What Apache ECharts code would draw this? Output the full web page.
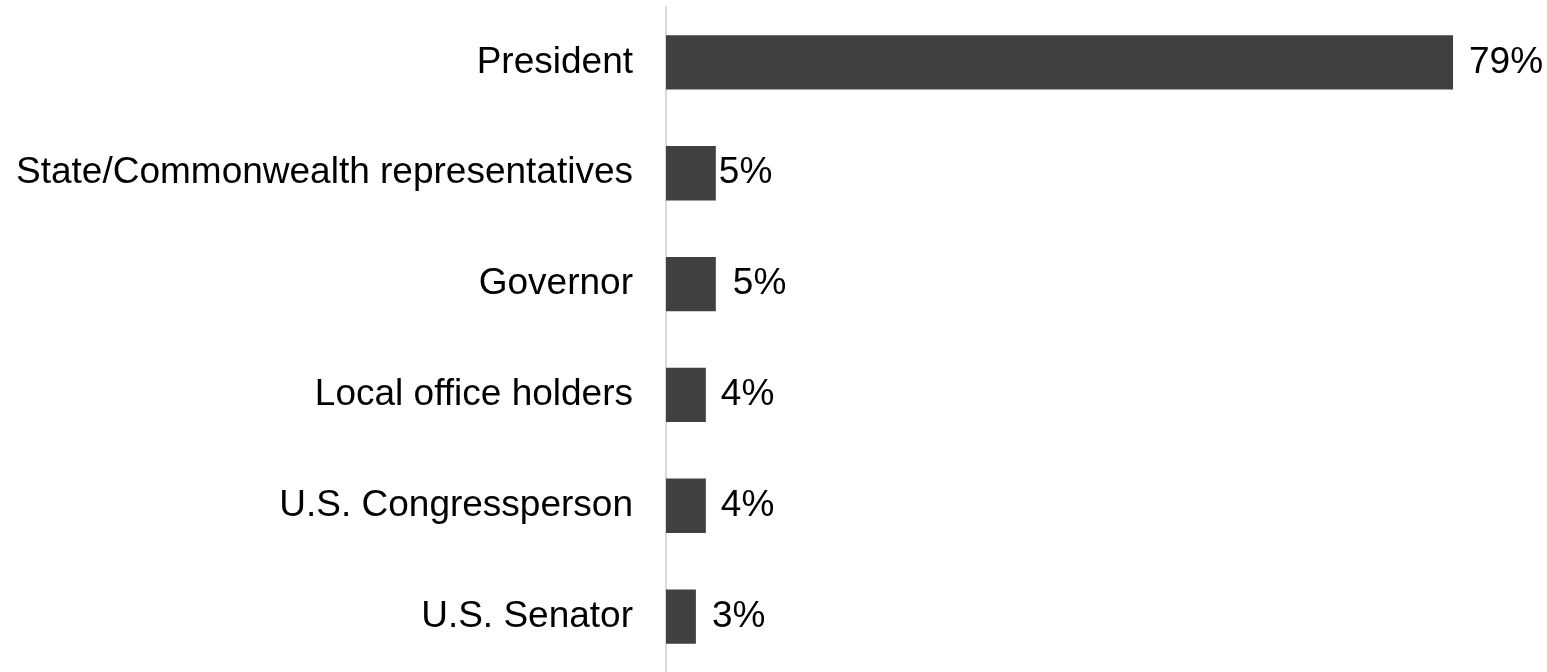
<!DOCTYPE html>
<html>
<head>
<meta charset="utf-8">
<title>Offices</title>
<script src="https://cdn.jsdelivr.net/npm/echarts@6/dist/echarts.min.js"></script>
<style>
    html, body { margin: 0; padding: 0; background: #fff; }
    #main { width: 1547px; height: 672px; }
</style>
</head>
<body>
<div id="main"></div>
<script>
// data
const offices = [
    'President',
    'State/Commonwealth representatives',
    'Governor',
    'Local office holders',
    'U.S. Congressperson',
    'U.S. Senator'
];
const shares = [79, 5, 5, 4, 4, 3];
// label gap after the bar end (the second 5% sits almost on its bar)
const labelGaps = [16, 3, 17, 15, 15, 16];

const chart = echarts.init(document.getElementById('main'));

const option = {
    animation: false,
    grid: {
        left: 666,
        top: 7,
        width: 797,
        height: 669
    },
    xAxis: {
        type: 'value',
        min: 0,
        max: 80,
        show: false
    },
    yAxis: {
        type: 'category',
        data: offices,
        inverse: true,
        axisTick: { show: false },
        axisLine: {
            show: true,
            lineStyle: { color: '#d9d9d9', width: 2 }
        },
        axisLabel: {
            margin: 33,
            color: '#000',
            fontFamily: 'Liberation Sans, Arial, sans-serif',
            fontSize: 37
        }
    },
    series: [
        {
            type: 'bar',
            barWidth: '49%',
            itemStyle: { color: '#3f403f' },
            data: shares.map((v, i) => ({
                value: v,
                label: { distance: labelGaps[i] }
            })),
            label: {
                show: true,
                position: 'right',
                color: '#000',
                fontFamily: 'Liberation Sans, Arial, sans-serif',
                fontSize: 37,
                formatter: p => p.value + '%'
            }
        }
    ]
};

chart.setOption(option);
</script>
</body>
</html>
